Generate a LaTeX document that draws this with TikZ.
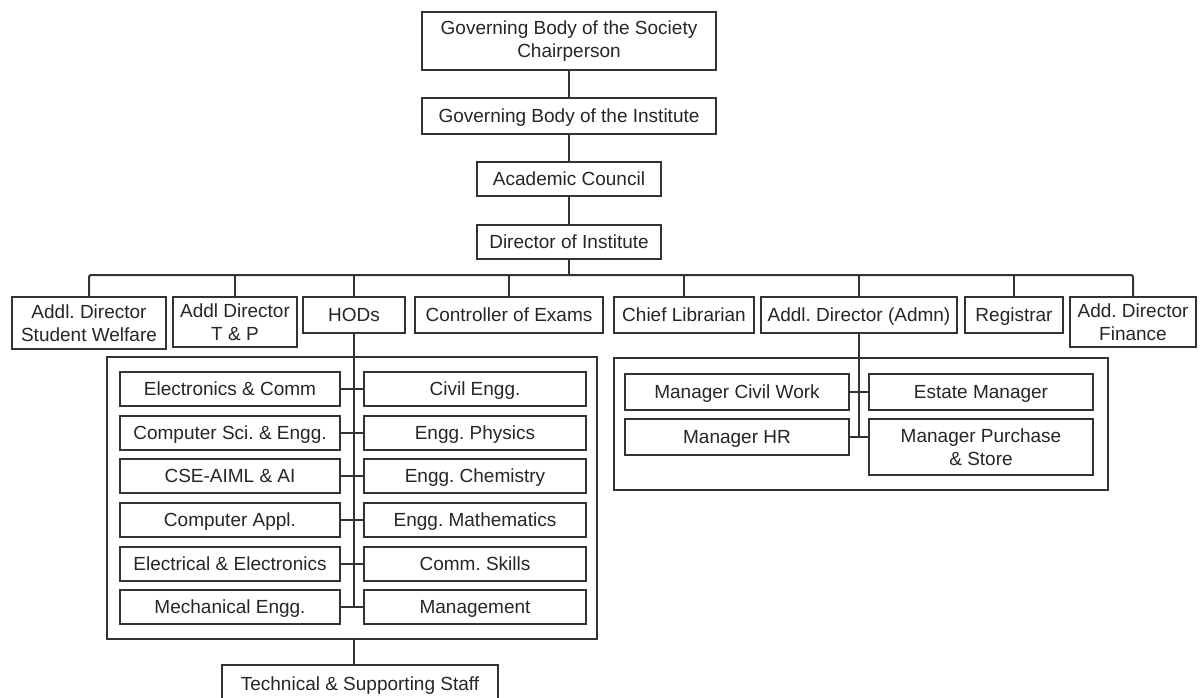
\documentclass[tikz,border=0pt]{standalone}
\usepackage{fontspec}
\setmainfont{Liberation Sans}
\begin{document}
\begin{tikzpicture}[x=1pt,y=-1pt,
  box/.style={draw=black!80, line width=2pt, inner sep=0pt, align=center,
     text=black!85, font=\frenchspacing\fontsize{19}{23}\selectfont},
  one/.style={box, text height=13.6pt, text depth=0pt},
  frame/.style={draw=black!80, line width=2pt, inner sep=0pt},
  conn/.style={draw=black!80, line width=2pt}]
\useasboundingbox (0,0) rectangle (1201,697);
\clip (0,0) rectangle (1201,697);
\fill[white] (0,0) rectangle (1201,697);
% top chain
\node[box, minimum width=294pt, minimum height=58pt] (g1) at (569,41) {Governing Body of the Society\\Chairperson};
\node[one, minimum width=294pt, minimum height=36pt] (g2) at (569,116) {Governing Body of the Institute};
\node[one, minimum width=184pt, minimum height=34pt] (ac) at (569,179) {Academic Council};
\node[one, minimum width=184pt, minimum height=34pt] (dir) at (569,242) {Director of Institute};
\draw[conn] (g1.south) -- (g2.north);
\draw[conn] (g2.south) -- (ac.north);
\draw[conn] (ac.south) -- (dir.north);
\coordinate (bus) at (569,275);
\draw[conn] (dir.south) -- (bus);
% second row
\node[box, minimum width=154pt, minimum height=52pt] (sw) at (89,323) {Addl. Director\\Student Welfare};
\node[box, minimum width=124pt, minimum height=50pt] (tp) at (235,322) {Addl Director\\T \& P};
\node[one, minimum width=102pt, minimum height=36pt] (hod) at (354,315) {HODs};
\node[one, minimum width=188pt, minimum height=36pt] (ce) at (509,315) {Controller of Exams};
\node[one, minimum width=140pt, minimum height=36pt] (cl) at (684,315) {Chief Librarian};
\node[one, minimum width=196pt, minimum height=36pt] (adm) at (859,315) {Addl. Director (Admn)};
\node[one, minimum width=98pt, minimum height=36pt] (reg) at (1014,315) {Registrar};
\node[box, minimum width=126pt, minimum height=50pt] (fin) at (1133,322) {Add. Director\\Finance};
\draw[conn, rounded corners=2pt] (sw.north) -- (sw.north |- bus) -- (fin.north |- bus) -- (fin.north);
\foreach \n in {tp,hod,ce,cl,adm,reg} \draw[conn] (\n.north) -- (\n.north |- bus);
% HOD departments
\node[frame, minimum width=490pt, minimum height=282pt] (hbox) at (352,498) {};
\foreach \i/\l/\r/\y in {1/Electronics \& Comm/Civil Engg./389,
    2/Computer Sci. \& Engg./Engg. Physics/433,
    3/CSE-AIML \& AI/Engg. Chemistry/476,
    4/Computer Appl./Engg. Mathematics/520,
    5/Electrical \& Electronics/Comm. Skills/564,
    6/Mechanical Engg./Management/607} {
  \node[one, minimum width=220pt, minimum height=34pt] (L\i) at (230,\y) {\l};
  \node[one, minimum width=222pt, minimum height=34pt] (R\i) at (475,\y) {\r};
  \draw[conn] (L\i.east) -- (R\i.west);
}
\draw[conn] (hod.south) -- (hod.south |- L6.east);
\node[one, minimum width=276pt, minimum height=38pt] (tech) at (360,684) {Technical \& Supporting Staff};
\draw[conn] (hod.south |- hbox.south) -- (hod.south |- tech.north);
% Admn section
\node[frame, minimum width=494pt, minimum height=132pt] (abox) at (861,424) {};
\node[one, minimum width=224pt, minimum height=36pt] (mcw) at (737,392) {Manager Civil Work};
\node[one, minimum width=224pt, minimum height=36pt] (mhr) at (737,437) {Manager HR};
\node[one, minimum width=224pt, minimum height=36pt] (est) at (981,392) {Estate Manager};
\node[box, minimum width=224pt, minimum height=56pt] (mps) at (981,447) {Manager Purchase\\\& Store};
\draw[conn] (mcw.east) -- (est.west);
\draw[conn] (mhr.east) -- (mhr.east -| mps.west);
\draw[conn] (adm.south) -- (adm.south |- mhr.east);
\end{tikzpicture}
\end{document}
